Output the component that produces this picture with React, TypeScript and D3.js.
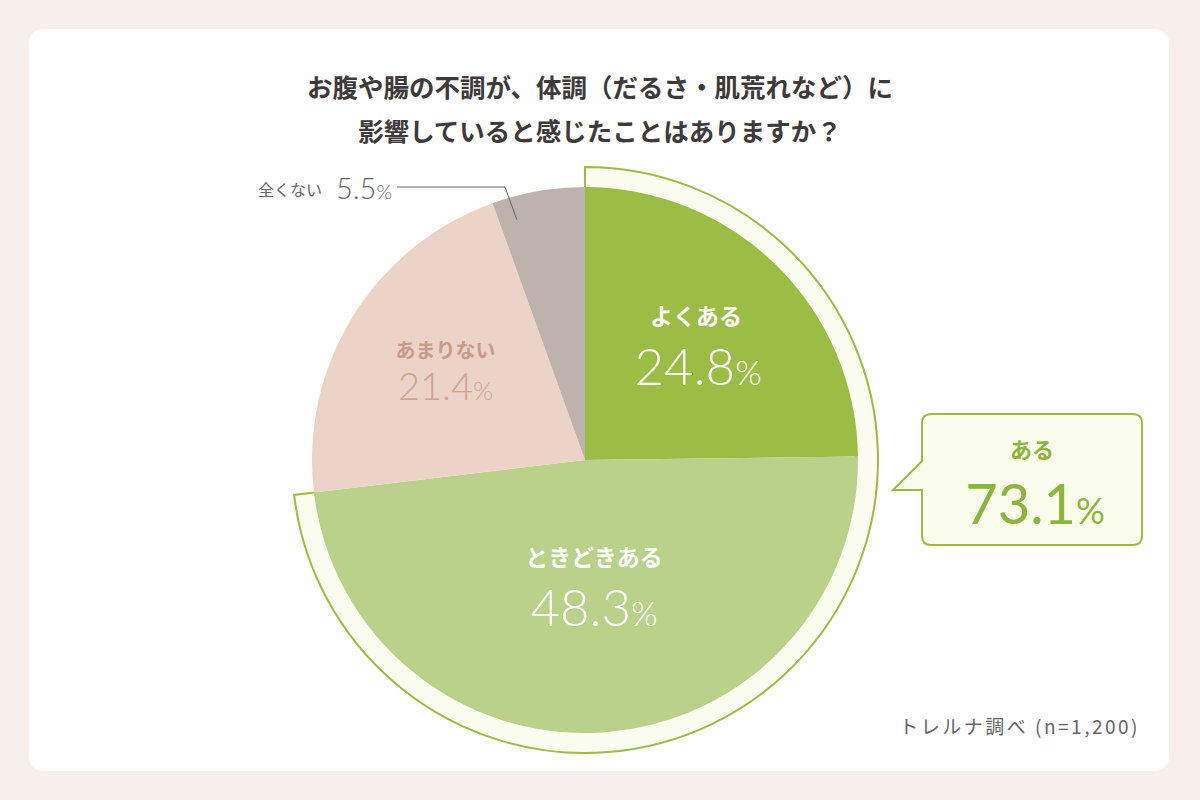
import React from 'react';
import * as d3 from 'd3';

const categories = ['よくある', 'ときどきある', 'あまりない', '全くない'];
const values = [24.8, 48.3, 21.4, 5.5];
const colors = ['#9bbd45', '#b9d189', '#ecd3c7', '#beb2ad'];
const labelColors = ['#ffffff', '#ffffff', '#c79a8a', '#666666'];
const groupLabel = 'ある';
const groupValue = 73.1;
const title = ['お腹や腸の不調が、体調（だるさ・肌荒れなど）に', '影響していると感じたことはありますか？'];
const source = 'トレルナ調べ (n=1,200)';

const W = 1200;
const H = 800;
const cx = 585;
const cy = 460;
const R = 273;
const JP = '"Noto Sans CJK JP", "Noto Sans", sans-serif';
const NUM = 'Lato, "Noto Sans", sans-serif';

export default function App() {
  const pie = d3.pie<number>().sort(null).value(d => d);
  const arcs = pie(values);
  const arc = d3.arc<d3.PieArcDatum<number>>().innerRadius(0).outerRadius(R);
  const total = d3.sum(values);
  const groupEnd = ((values[0] + values[1]) / total) * Math.PI * 2;
  const band = d3.arc()({ innerRadius: R - 2, outerRadius: R + 20, startAngle: 0, endAngle: groupEnd }) as string;

  // label positions along the centroid direction
  const labelPos = (i: number, k: number) => {
    const a = (arcs[i].startAngle + arcs[i].endAngle) / 2;
    return [cx + Math.sin(a) * R * k, cy - Math.cos(a) * R * k];
  };
  const pos0 = labelPos(0, 0.6);
  const pos1 = labelPos(1, 0.5);
  const pos2 = labelPos(2, 0.6);

  // leader for the small slice
  const a3 = arcs[3].startAngle + (arcs[3].endAngle - arcs[3].startAngle) * 0.2;
  const lx = cx + Math.sin(a3) * R * 0.915;
  const ly = cy - Math.cos(a3) * R * 0.915;

  const fmt = (v: number) => v.toFixed(1);

  const bx = 922, by = 414, bw = 220, bh = 131, br = 9;
  const callout = `M${bx + br},${by} H${bx + bw - br} Q${bx + bw},${by} ${bx + bw},${by + br} V${by + bh - br} Q${bx + bw},${by + bh} ${bx + bw - br},${by + bh} H${bx + br} Q${bx},${by + bh} ${bx},${by + bh - br} V${by + 76} H${bx - 29} L${bx},${by + 47} V${by + br} Q${bx},${by} ${bx + br},${by} Z`;

  return (
    <svg width={W} height={H} style={{ position: 'absolute', left: 0, top: 0 }}>
      <rect x={0} y={0} width={W} height={H} fill="#f8eeeb" />
      <rect x={29} y={29} width={1140} height={742} rx={14} fill="#ffffff" />
      {title.map((t, i) => (
        <text key={i} x={600} y={97 + i * 44} textAnchor="middle" fontFamily={JP} fontWeight={700} fontSize={25.5} fill="#3d3a39">{t}</text>
      ))}
      <path d={band} transform={`translate(${cx},${cy})`} fill="#fbfdf0" stroke="#9bbd45" strokeWidth={2} />
      <g transform={`translate(${cx},${cy})`}>
        {arcs.map((d, i) => (
          <path key={i} d={arc(d) as string} fill={colors[i]} />
        ))}
      </g>
      <text x={pos0[0] - 4} y={pos0[1] - 18} textAnchor="middle" fontFamily={JP} fontWeight={700} fontSize={23} fill={labelColors[0]}>{categories[0]}</text>
      <text x={pos0[0] - 2} y={pos0[1] + 42} textAnchor="middle" fontFamily={NUM} fontWeight={300} fontSize={51} fill={labelColors[0]}>{fmt(values[0])}<tspan fontSize={34}>%</tspan></text>
      <text x={pos1[0]} y={pos1[1] - 30} textAnchor="middle" fontFamily={JP} fontWeight={700} fontSize={23} fill={labelColors[1]}>{categories[1]}</text>
      <text x={pos1[0]} y={pos1[1] + 30} textAnchor="middle" fontFamily={NUM} fontWeight={300} fontSize={51} fill={labelColors[1]}>{fmt(values[1])}<tspan fontSize={34}>%</tspan></text>
      <text x={pos2[0]} y={pos2[1] - 16} textAnchor="middle" fontFamily={JP} fontWeight={700} fontSize={20} fill={labelColors[2]}>{categories[2]}</text>
      <text x={pos2[0]} y={pos2[1] + 26} textAnchor="middle" fontFamily={NUM} fontWeight={300} fontSize={38} fill="#cfa393">{fmt(values[2])}<tspan fontSize={26}>%</tspan></text>
      <polyline points={`${397},${187} ${505},${187} ${lx},${ly}`} fill="none" stroke="#666" strokeWidth={1} />
      <text x={322} y={196} textAnchor="end" fontFamily={JP} fontSize={16} fill="#666">{categories[3]}</text>
      <text x={392} y={199} textAnchor="end" fontFamily={NUM} fontWeight={300} fontSize={29} fill="#666">{fmt(values[3])}<tspan fontSize={20}>%</tspan></text>
      <path d={callout} fill="#fbfdec" stroke="#9bbd45" strokeWidth={2} />
      <text x={1032} y={458} textAnchor="middle" fontFamily={JP} fontWeight={700} fontSize={22} fill="#8db53b">{groupLabel}</text>
      <text x={1035} y={524} textAnchor="middle" fontFamily={NUM} fontWeight={400} fontSize={56} fill="#8db53b">{fmt(groupValue)}<tspan fontSize={36}>%</tspan></text>
      <text x={1140} y={734} textAnchor="end" fontFamily={JP} fontSize={19} letterSpacing={2.5} fill="#666">{source}</text>
    </svg>
  );
}
